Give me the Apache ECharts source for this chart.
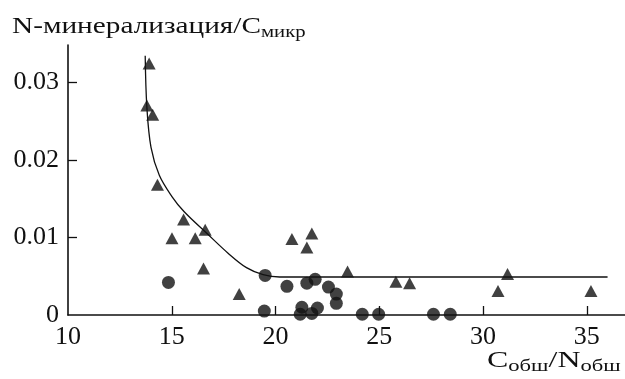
<!DOCTYPE html>
<html>
<head>
<meta charset="utf-8">
<script src="https://cdn.jsdelivr.net/npm/echarts@6/dist/echarts.min.js"></script>
<style>
  html, body { margin: 0; padding: 0; background: #fff; }
  #chart { width: 625px; height: 379px; }
</style>
</head>
<body>
<div id="chart"></div>
<script>
// Triangles: [C/N ratio, N-mineralization / C_mic]
const triangles = [
  [13.91, 0.0324], [13.80, 0.0270], [14.08, 0.0258], [14.31, 0.0168],
  [15.57, 0.0123], [15.01, 0.0099], [16.13, 0.0099], [16.61, 0.0110],
  [16.53, 0.0060], [18.25, 0.0027], [20.79, 0.0098], [21.75, 0.0105],
  [21.51, 0.0087], [23.47, 0.0056], [25.80, 0.0043], [26.46, 0.0041],
  [31.18, 0.0053], [30.72, 0.0031], [35.20, 0.0031]
];
// Circles
const circles = [
  [14.84, 0.0042], [19.50, 0.0051], [19.46, 0.0005], [20.55, 0.0037],
  [21.51, 0.0041], [21.91, 0.0046], [22.55, 0.0036], [22.93, 0.0027],
  [22.93, 0.0015], [21.27, 0.0010], [21.19, 0.0001], [21.75, 0.0002],
  [22.02, 0.0009], [24.18, 0.0001], [24.97, 0.0001], [27.61, 0.0001],
  [28.42, 0.0001]
];
// Fitted trend curve
const trend = [
  [13.72, 0.0334], [13.80, 0.0268], [14.00, 0.0216], [14.40, 0.0180],
  [15.00, 0.0153], [15.60, 0.0133], [16.70, 0.0105], [17.70, 0.0080],
  [18.60, 0.0061], [19.40, 0.0052], [20.20, 0.0049], [22.00, 0.0049],
  [36.00, 0.0049]
];
const xTickValues = [15, 20, 25, 30, 35];
const xLabelValues = [10, 15, 20, 25, 30, 35];
const yTickValues = [0.01, 0.02, 0.03];
const yLabelValues = [0, 0.01, 0.02, 0.03];

const FONT = 'Liberation Serif';
const INK = '#111';

const richStyles = {
  a: { fontFamily: FONT, fontSize: 24, fill: INK, lineHeight: 28 },
  s: { fontFamily: FONT, fontSize: 17, fill: INK, lineHeight: 18, padding: [12, 0, 0, 0] }
};

const chart = echarts.init(document.getElementById('chart'), null, { renderer: 'canvas' });
chart.setOption({
  animation: false,
  backgroundColor: '#fff',
  grid: { left: 68, right: 0, top: 45, bottom: 64 },
  xAxis: {
    type: 'value', min: 10, max: 36.84,
    axisLine: { show: true, onZero: false, lineStyle: { color: INK, width: 1.6 } },
    axisTick: { show: true, inside: true, length: 9, customValues: xTickValues, lineStyle: { color: INK, width: 1.3 } },
    axisLabel: { customValues: xLabelValues, color: INK, fontFamily: FONT, fontSize: 26, margin: 9 },
    splitLine: { show: false }
  },
  yAxis: {
    type: 'value', min: 0, max: 0.0348,
    axisLine: { show: true, lineStyle: { color: INK, width: 1.6 } },
    axisTick: { show: true, inside: true, length: 9, customValues: yTickValues, lineStyle: { color: INK, width: 1.3 } },
    axisLabel: {
      customValues: yLabelValues, color: INK, fontFamily: FONT, fontSize: 26, margin: 9,
      formatter: v => (v === 0 ? '0' : v.toFixed(2))
    },
    splitLine: { show: false }
  },
  graphic: [
    {
      type: 'text', x: 12, y: 13, scaleX: 1.22,
      style: { text: '{a|N-минерализация/C}{s|микр}', rich: richStyles }
    },
    {
      type: 'text', x: 487, y: 347, scaleX: 1.33,
      style: { text: '{a|C}{s|обш}{a|/N}{s|обш}', rich: richStyles }
    }
  ],
  series: [
    {
      type: 'line', data: trend, smooth: 0.35,
      showSymbol: false, symbol: 'none', z: 1,
      lineStyle: { color: INK, width: 1.3 }
    },
    {
      type: 'scatter', data: triangles, symbol: 'triangle', symbolSize: [13, 12], z: 3,
      itemStyle: { color: INK }
    },
    {
      type: 'scatter', data: circles, symbol: 'circle', symbolSize: 13, z: 3,
      itemStyle: { color: INK }
    }
  ]
});
</script>
</body>
</html>
